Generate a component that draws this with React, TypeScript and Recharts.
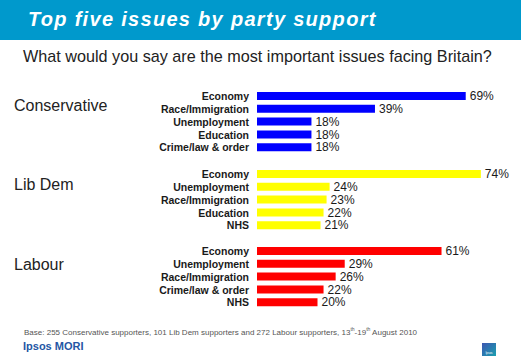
import React from "react";
import { BarChart, Bar, XAxis, YAxis, LabelList } from "recharts";

const parties = ["Conservative", "Lib Dem", "Labour"];
const conservativeIssues = ["Economy", "Race/Immigration", "Unemployment", "Education", "Crime/law & order"];
const conservativeValues = [69, 39, 18, 18, 18];
const libDemIssues = ["Economy", "Unemployment", "Race/Immigration", "Education", "NHS"];
const libDemValues = [74, 24, 23, 22, 21];
const labourIssues = ["Economy", "Unemployment", "Race/Immigration", "Crime/law & order", "NHS"];
const labourValues = [61, 29, 26, 22, 20];
const partyColors = ["#0000ff", "#ffff00", "#ff0000"];

const FONT = "'Liberation Sans', Arial, sans-serif";

function build(issues: string[], values: number[]) {
  return issues.map((issue, i) => ({ issue, value: values[i] }));
}

const groups = [
  { data: build(conservativeIssues, conservativeValues), top: 90, labelY: 106 },
  { data: build(libDemIssues, libDemValues), top: 168, labelY: 185 },
  { data: build(labourIssues, labourValues), top: 245, labelY: 265 },
];

export default function App() {
  return (
    <div
      style={{
        position: "absolute",
        left: 0,
        top: 0,
        width: 521,
        height: 356,
        background: "#ffffff",
        overflow: "hidden",
        fontFamily: FONT,
      }}
    >
      <div
        style={{
          position: "absolute",
          left: 0,
          top: 0,
          width: 521,
          height: 40,
          background: "#0099cc",
        }}
      />
      <div
        style={{
          position: "absolute",
          left: 28,
          top: 7,
          color: "#ffffff",
          fontWeight: "bold",
          fontStyle: "italic",
          fontSize: 20,
          letterSpacing: 1.3,
          whiteSpace: "nowrap",
          lineHeight: "24px",
        }}
      >
        Top five issues by party support
      </div>
      <div
        style={{
          position: "absolute",
          left: 23,
          top: 46,
          color: "#222222",
          fontSize: 16.2,
          whiteSpace: "nowrap",
          lineHeight: "20px",
        }}
      >
        What would you say are the most important issues facing Britain?
      </div>

      {groups.map((g, gi) => (
        <React.Fragment key={gi}>
          <div
            style={{
              position: "absolute",
              left: 14,
              top: g.labelY - 10,
              fontSize: 16,
              color: "#222222",
              lineHeight: "20px",
              whiteSpace: "nowrap",
            }}
          >
            {parties[gi]}
          </div>
          <div style={{ position: "absolute", left: 0, top: g.top }}>
            <BarChart
              width={521}
              height={64}
              data={g.data}
              layout="vertical"
              margin={{ top: 0, right: 22, bottom: 0, left: 0 }}
            >
              <XAxis type="number" domain={[0, 80]} hide />
              <YAxis
                type="category"
                dataKey="issue"
                width={257}
                axisLine={false}
                tickLine={false}
                tickSize={0}
                tickMargin={8}
                interval={0}
                tick={{ fontSize: 10.5, fontWeight: "bold", fill: "#1a1a1a", fontFamily: FONT }}
              />
              <Bar dataKey="value" fill={partyColors[gi]} barSize={8} isAnimationActive={false}>
                <LabelList
                  dataKey="value"
                  position="right"
                  offset={4}
                  formatter={(v: any) => `${v}%`}
                  style={{ fontSize: 12, fill: "#1a1a1a", fontFamily: FONT }}
                />
              </Bar>
            </BarChart>
          </div>
        </React.Fragment>
      ))}

      <div
        style={{
          position: "absolute",
          left: 24,
          top: 324,
          fontSize: 8,
          color: "#555555",
          whiteSpace: "nowrap",
          lineHeight: "10px",
        }}
      >
        Base: 255 Conservative supporters, 101 Lib Dem supporters and 272 Labour supporters, 13
        <sup style={{ fontSize: 5 }}>th</sup>-19<sup style={{ fontSize: 5 }}>th</sup> August 2010
      </div>
      <div
        style={{
          position: "absolute",
          left: 23,
          top: 340,
          fontSize: 11,
          fontWeight: "bold",
          color: "#2456a4",
          whiteSpace: "nowrap",
          lineHeight: "13px",
        }}
      >
        Ipsos MORI
      </div>
      <div
        style={{
          position: "absolute",
          left: 482,
          top: 343,
          width: 14,
          height: 13,
          background: "linear-gradient(135deg, #3d55b0, #1aa0b0)",
          color: "#ffffff",
          fontSize: 3,
          lineHeight: "4px",
          textAlign: "center",
          paddingTop: 8,
          boxSizing: "border-box",
        }}
      >
        Ipsos
      </div>
    </div>
  );
}
